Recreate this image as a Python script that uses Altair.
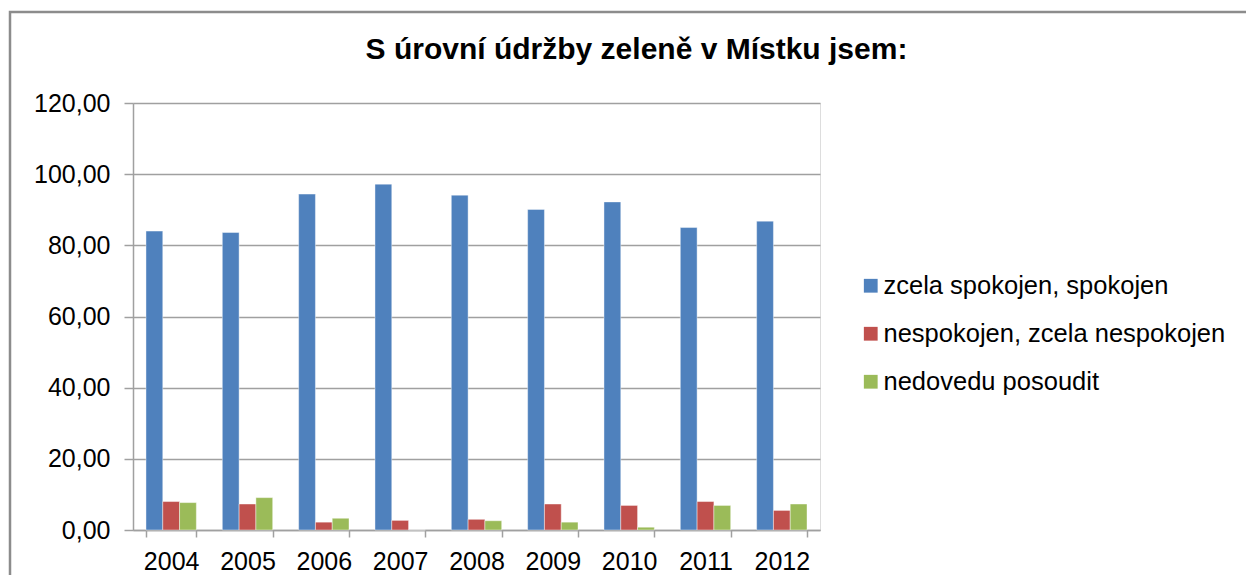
import altair as alt
import pandas as pd

years = ["2004", "2005", "2006", "2007", "2008", "2009", "2010", "2011", "2012"]
series_names = ["zcela spokojen, spokojen", "nespokojen, zcela nespokojen", "nedovedu posoudit"]
spokojen = [84.0, 83.6, 94.4, 97.2, 94.1, 90.1, 92.2, 85.0, 86.8]
nespokojen = [8.0, 7.3, 2.2, 2.7, 3.0, 7.3, 6.9, 8.0, 5.5]
nedovedu = [7.7, 9.1, 3.3, 0.0, 2.6, 2.2, 0.8, 6.9, 7.3]
colors = ["#4F81BD", "#C0504D", "#9BBB59"]
title_text = "S úrovní údržby zeleně v Místku jsem:"

rows = []
for name, vals in zip(series_names, [spokojen, nespokojen, nedovedu]):
    for y, v in zip(years, vals):
        rows.append({"rok": y, "skupina": name, "hodnota": v})
df = pd.DataFrame(rows)

FONT = "Liberation Sans"

bars = alt.Chart(df).mark_bar(stroke="white", strokeWidth=0.6, strokeOpacity=0.7).encode(
    x=alt.X("rok:N", sort=years, title=None,
            scale=alt.Scale(paddingInner=0.34, paddingOuter=0.17),
            axis=alt.Axis(labelAngle=0, labelFontSize=25, labelFont=FONT, labelColor="#000000",
                          tickBand="extent", tickSize=7, tickColor="#a0a0a0", tickWidth=1.5,
                          domainColor="#a0a0a0", domainWidth=1.5, labelPadding=12, grid=False)),
    xOffset=alt.XOffset("skupina:N", sort=series_names, scale=alt.Scale(paddingInner=0, paddingOuter=0)),
    y=alt.Y("hodnota:Q", title=None,
            scale=alt.Scale(domain=[0, 120], nice=False),
            axis=alt.Axis(values=[0, 20, 40, 60, 80, 100, 120],
                          labelExpr="replace(format(datum.value, '.2f'), '.', ',')",
                          labelFontSize=25, labelFont=FONT, labelColor="#000000",
                          tickSize=9, tickColor="#a0a0a0", tickWidth=1.5,
                          domainColor="#a0a0a0", domainWidth=1.5, labelPadding=14,
                          grid=True, gridColor="#a0a0a0", gridWidth=1.5)),
    color=alt.Color("skupina:N", sort=series_names,
                    scale=alt.Scale(domain=series_names, range=colors),
                    legend=alt.Legend(title=None, orient="none", legendX=725, legendY=170,
                                      symbolType="square", symbolSize=190, symbolStrokeWidth=0,
                                      labelFontSize=25.5, labelFont=FONT, labelColor="#000000",
                                      labelOffset=0, rowPadding=21, labelLimit=500)),
)

frame = alt.Chart(pd.DataFrame({"k": [0]})).mark_rect(fill=None, stroke="#8c8c8c", strokeWidth=2.5).encode(
    x=alt.value(-123), x2=alt.value(1140), y=alt.value(-91), y2=alt.value(500)
)

chart = alt.layer(frame, bars).properties(
    width=687, height=427,
    padding={"left": 125, "top": 95, "right": 426, "bottom": 45},
    autosize=alt.AutoSizeParams(type="none"),
    title=alt.TitleParams(title_text, font=FONT, fontSize=30, fontWeight="bold", color="#000000",
                          anchor="middle", frame="group", dx=160, offset=-78, baseline="alphabetic"),
).configure_view(stroke=None).configure(background="white")

chart.save("out.html", embed_options={"renderer": "svg", "actions": False})
